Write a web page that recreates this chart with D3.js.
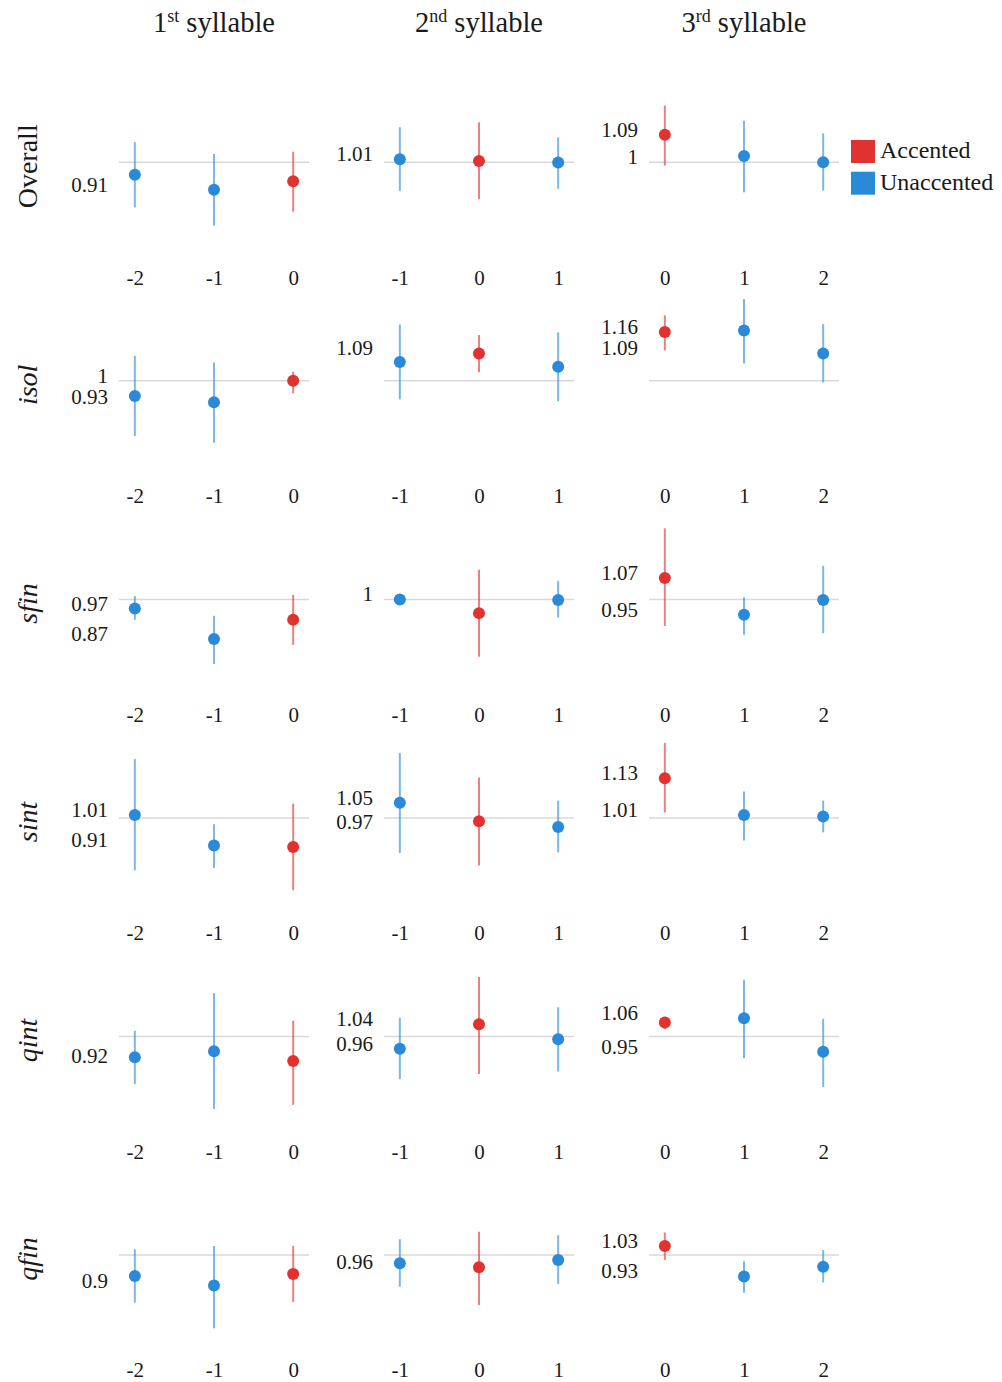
<!DOCTYPE html>
<html>
<head>
<meta charset="utf-8">
<script src="https://cdn.jsdelivr.net/npm/d3@7"></script>
<style>
  html, body { margin: 0; padding: 0; background: #fff; }
  svg { display: block; font-family: "Liberation Serif", "DejaVu Serif", serif; }
</style>
</head>
<body>
<svg id="chart" width="1002" height="1382"></svg>
<script>
// Row facets (word position class) and column facets (syllable)
const rowLabels = ["Overall", "isol", "sfin", "sint", "qint", "qfin"];
const rowItalic = [false, true, true, true, true, true];
const colNumbers = ["1", "2", "3"];
const colSuffixes = ["st", "nd", "rd"];
// Relative positions shown in each column; position 0 is the accented syllable
const positions = [[-2, -1, 0], [-1, 0, 1], [0, 1, 2]];

// Ratio estimates per row, per column, per position
const means = [
  [[0.959, 0.91, 0.938], [1.01, 1.004, 0.999], [1.09, 1.021, 1.0]],
  [[0.95, 0.93, 1.0], [1.062, 1.09, 1.046], [1.16, 1.165, 1.09]],
  [[0.97, 0.87, 0.933], [1.0, 0.955, 0.998], [1.07, 0.95, 0.998]],
  [[1.01, 0.91, 0.905], [1.05, 0.989, 0.97], [1.13, 1.01, 1.005]],
  [[0.932, 0.952, 0.92], [0.96, 1.04, 0.991], [1.046, 1.06, 0.95]],
  [[0.931, 0.9, 0.938], [0.973, 0.96, 0.984], [1.03, 0.93, 0.962]]
];
// Lower bounds of the intervals
const lower = [
  [[0.852, 0.792, 0.838], [0.906, 0.879, 0.913], [0.989, 0.902, 0.907]],
  [[0.819, 0.797, 0.959], [0.939, 1.028, 0.934], [1.1, 1.057, 0.995]],
  [[0.933, 0.788, 0.851], [0.99, 0.812, 0.94], [0.913, 0.884, 0.889]],
  [[0.828, 0.836, 0.763], [0.885, 0.844, 0.887], [1.018, 0.926, 0.953]],
  [[0.844, 0.762, 0.776], [0.86, 0.877, 0.885], [1.024, 0.929, 0.834]],
  [[0.844, 0.76, 0.846], [0.896, 0.836, 0.905], [0.984, 0.876, 0.91]]
];
// Upper bounds of the intervals
const upper = [
  [[1.066, 1.027, 1.035], [1.115, 1.131, 1.082], [1.186, 1.136, 1.095]],
  [[1.082, 1.06, 1.03], [1.185, 1.15, 1.159], [1.215, 1.268, 1.186]],
  [[1.011, 0.946, 1.015], [1.015, 1.097, 1.061], [1.233, 1.007, 1.11]],
  [[1.193, 0.979, 1.047], [1.213, 1.133, 1.057], [1.246, 1.087, 1.057]],
  [[1.019, 1.142, 1.052], [1.062, 1.195, 1.096], [1.062, 1.186, 1.058]],
  [[1.019, 1.03, 1.03], [1.052, 1.076, 1.065], [1.074, 0.98, 1.016]]
];
// Labelled y values per panel
const yTicks = [
  [[0.91], [1.01], [1.09, 1]],
  [[1, 0.93], [1.09], [1.16, 1.09]],
  [[0.97, 0.87], [1], [1.07, 0.95]],
  [[1.01, 0.91], [1.05, 0.97], [1.13, 1.01]],
  [[0.92], [1.04, 0.96], [1.06, 0.95]],
  [[0.9], [0.96], [1.03, 0.93]]
];
const legendLabels = ["Accented", "Unaccented"];
const colors = { Accented: "#e0322f", Unaccented: "#2a8ad8" };

const svg = d3.select("#chart");
const textColor = "#1a1a1a";

// Layout
const panelLeft0 = 119, panelStep = 265, panelWidth = 190;
const rowTop0 = 70.8, rowStep = 218.55, panelHeight = 183;
const yDomain = [0.7, 1.3];

// Column titles
colNumbers.forEach((n, c) => {
  const cx = panelLeft0 + c * panelStep + panelWidth / 2;
  const t = svg.append("text")
    .attr("x", cx).attr("y", 32)
    .attr("text-anchor", "middle")
    .attr("font-size", 28.5)
    .attr("fill", textColor);
  t.append("tspan").text(n);
  t.append("tspan").attr("font-size", 18).attr("dy", -10).text(colSuffixes[c]);
  t.append("tspan").attr("dy", 10).text(" syllable");
});

rowLabels.forEach((label, r) => {
  const top = rowTop0 + r * rowStep;
  const y = d3.scaleLinear().domain(yDomain).range([top + panelHeight, top]);

  // Row label
  svg.append("text")
    .attr("transform", `translate(37,${y(1) + 4}) rotate(-90)`)
    .attr("text-anchor", "middle")
    .attr("font-size", 28)
    .attr("font-style", rowItalic[r] ? "italic" : "normal")
    .attr("fill", textColor)
    .text(label);

  colNumbers.forEach((_, c) => {
    const left = panelLeft0 + c * panelStep;
    const x = d3.scalePoint().domain(positions[c]).range([left, left + panelWidth]).padding(0.2);
    const g = svg.append("g");

    // Reference line at ratio 1
    g.append("line")
      .attr("x1", left).attr("x2", left + panelWidth)
      .attr("y1", y(1)).attr("y2", y(1))
      .attr("stroke", "#d9d9d9").attr("stroke-width", 1.5);

    // Y labels
    const yAxis = g.append("g")
      .attr("transform", `translate(${left},0)`)
      .call(d3.axisLeft(y).tickValues(yTicks[r][c]).tickSize(0).tickPadding(11).tickFormat(d => String(d)));
    yAxis.select(".domain").remove();
    yAxis.selectAll("text")
      .attr("dy", 1.5)
      .attr("font-family", "Liberation Serif")
      .attr("font-size", 21)
      .attr("fill", textColor);

    // X labels
    const xAxis = g.append("g")
      .attr("transform", `translate(0,${y(1) + 107.5})`)
      .call(d3.axisBottom(x).tickSize(0).tickPadding(0).tickFormat(d => String(d)));
    xAxis.select(".domain").remove();
    xAxis.selectAll("text")
      .attr("font-family", "Liberation Serif")
      .attr("font-size", 21)
      .attr("fill", textColor);

    const pts = positions[c].map((p, i) => ({
      pos: p,
      mean: means[r][c][i],
      lo: lower[r][c][i],
      hi: upper[r][c][i],
      group: p === 0 ? "Accented" : "Unaccented"
    }));

    // Interval bars
    g.selectAll("line.bar").data(pts).join("line")
      .attr("class", "bar")
      .attr("x1", d => x(d.pos)).attr("x2", d => x(d.pos))
      .attr("y1", d => y(d.lo)).attr("y2", d => y(d.hi))
      .attr("stroke", d => colors[d.group])
      .attr("stroke-opacity", 0.62)
      .attr("stroke-width", 2);

    // Point estimates
    g.selectAll("circle").data(pts).join("circle")
      .attr("cx", d => x(d.pos)).attr("cy", d => y(d.mean))
      .attr("r", 6)
      .attr("fill", d => colors[d.group]);
  });
});

// Legend
const legend = svg.append("g").attr("transform", "translate(851,140)");
legendLabels.forEach((name, i) => {
  legend.append("rect")
    .attr("x", 0).attr("y", i * 31.7)
    .attr("width", 24).attr("height", 23)
    .attr("fill", colors[name]);
  legend.append("text")
    .attr("x", 29).attr("y", i * 31.7 + 18)
    .attr("font-size", 24)
    .attr("fill", textColor)
    .text(name);
});
</script>
</body>
</html>
